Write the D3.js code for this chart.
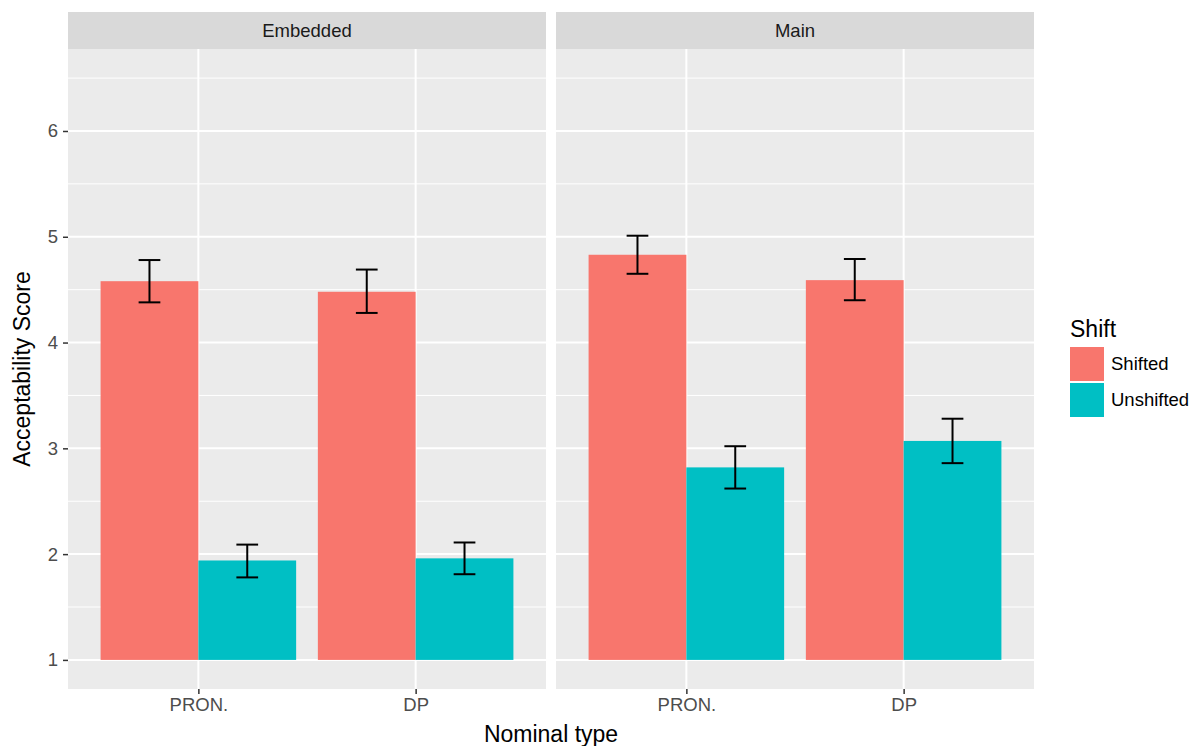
<!DOCTYPE html>
<html>
<head>
<meta charset="utf-8">
<script src="https://cdn.jsdelivr.net/npm/d3@7"></script>
<style>
  body { margin: 0; background: #fff; }
  svg { font-family: "Liberation Sans", Arial, sans-serif; }
</style>
</head>
<body>
<div id="chart"></div>
<script>
// data
const panels = ["Embedded", "Main"];
const types = ["PRON.", "DP"];
const shifts = ["Shifted", "Unshifted"];
const colors = ["#F8766D", "#00BFC4"];

// mean, lower, upper per panel / type / shift
const embeddedMean = [[4.58, 1.94], [4.48, 1.96]];
const embeddedLo   = [[4.38, 1.78], [4.28, 1.81]];
const embeddedHi   = [[4.78, 2.09], [4.69, 2.11]];
const mainMean = [[4.83, 2.82], [4.59, 3.07]];
const mainLo   = [[4.65, 2.62], [4.40, 2.86]];
const mainHi   = [[5.01, 3.02], [4.79, 3.28]];

const yTicks = [1, 2, 3, 4, 5, 6];
const yMinor = [1.5, 2.5, 3.5, 4.5, 5.5, 6.5];

const rows = [];
panels.forEach((p, pi) => {
  const m = pi === 0 ? embeddedMean : mainMean;
  const lo = pi === 0 ? embeddedLo : mainLo;
  const hi = pi === 0 ? embeddedHi : mainHi;
  types.forEach((t, ti) => shifts.forEach((s, si) => {
    rows.push({ panel: p, type: t, shift: s, mean: m[ti][si], lo: lo[ti][si], hi: hi[ti][si] });
  }));
});

const width = 1192, height = 746;
const panelX = [68, 556], panelW = 478;
const stripTop = 12, plotTop = 49, plotBottom = 689;
const font = "Liberation Sans, Arial, sans-serif";

const svg = d3.select("#chart").append("svg")
  .attr("width", width).attr("height", height);

const y = d3.scaleLinear().domain([0.725, 6.775]).range([plotBottom, plotTop]);

panels.forEach((p, pi) => {
  const x0 = panelX[pi];
  // ggplot discrete scale: centres at 0.6/2.2 and 1.6/2.2 of width
  const xc = d3.scalePoint().domain(types).range([x0 + panelW * 0.6 / 2.2, x0 + panelW * 1.6 / 2.2]);
  const unit = panelW / 2.2;
  const xs = d3.scaleBand().domain(shifts).range([-0.45 * unit, 0.45 * unit]);

  // strip
  svg.append("rect").attr("x", x0).attr("y", stripTop).attr("width", panelW)
    .attr("height", plotTop - stripTop).attr("fill", "#d9d9d9");
  svg.append("text").attr("x", x0 + panelW / 2).attr("y", (stripTop + plotTop) / 2)
    .attr("dy", "0.35em").attr("text-anchor", "middle").attr("font-size", 18.5)
    .attr("fill", "#1a1a1a").text(p);

  // panel bg
  const g = svg.append("g");
  g.append("rect").attr("x", x0).attr("y", plotTop).attr("width", panelW)
    .attr("height", plotBottom - plotTop).attr("fill", "#ebebeb");
  g.selectAll(".minor").data(yMinor).join("line")
    .attr("x1", x0).attr("x2", x0 + panelW)
    .attr("y1", d => y(d)).attr("y2", d => y(d))
    .attr("stroke", "#fff").attr("stroke-width", 1);
  g.selectAll(".major").data(yTicks).join("line")
    .attr("x1", x0).attr("x2", x0 + panelW)
    .attr("y1", d => y(d)).attr("y2", d => y(d))
    .attr("stroke", "#fff").attr("stroke-width", 2);
  g.selectAll(".vmajor").data(types).join("line")
    .attr("x1", d => xc(d)).attr("x2", d => xc(d))
    .attr("y1", plotTop).attr("y2", plotBottom)
    .attr("stroke", "#fff").attr("stroke-width", 2);

  const data = rows.filter(r => r.panel === p);
  g.selectAll(".bar").data(data).join("rect")
    .attr("x", d => xc(d.type) + xs(d.shift))
    .attr("width", xs.bandwidth())
    .attr("y", d => y(d.mean))
    .attr("height", d => y(1) - y(d.mean))
    .attr("fill", d => colors[shifts.indexOf(d.shift)]);

  // error bars
  const half = 0.05 * unit;
  const eb = g.selectAll(".eb").data(data).join("g")
    .attr("transform", d => `translate(${xc(d.type) + xs(d.shift) + xs.bandwidth() / 2},0)`)
    .attr("stroke", "#000").attr("stroke-width", 2);
  eb.append("line").attr("y1", d => y(d.lo)).attr("y2", d => y(d.hi));
  eb.append("line").attr("x1", -half).attr("x2", half).attr("y1", d => y(d.lo)).attr("y2", d => y(d.lo));
  eb.append("line").attr("x1", -half).attr("x2", half).attr("y1", d => y(d.hi)).attr("y2", d => y(d.hi));

  // x axis
  svg.append("g").attr("transform", `translate(0,${plotBottom})`)
    .attr("font-size", 18.5).attr("font-family", font)
    .call(d3.axisBottom(xc).tickSize(5).tickPadding(4))
    .attr("font-size", 18.5).attr("font-family", font)
    .call(a => a.select(".domain").remove())
    .call(a => a.selectAll(".tick line").attr("stroke", "#333").attr("stroke-width", 1.5))
    .call(a => a.selectAll(".tick text").attr("fill", "#4d4d4d"));
});

// y axis
svg.append("g").attr("transform", `translate(${panelX[0]},0)`)
  .call(d3.axisLeft(y).tickValues(yTicks).tickFormat(d3.format("d")).tickSize(5).tickPadding(5))
  .attr("font-size", 18.5).attr("font-family", font)
  .call(a => a.select(".domain").remove())
  .call(a => a.selectAll(".tick line").attr("stroke", "#333").attr("stroke-width", 1.5))
  .call(a => a.selectAll(".tick text").attr("fill", "#4d4d4d"));

// axis titles
svg.append("text").attr("x", (panelX[0] + panelX[1] + panelW) / 2).attr("y", 742)
  .attr("text-anchor", "middle").attr("font-size", 23).attr("fill", "#000").text("Nominal type");
svg.append("text").attr("transform", `translate(30,${(plotTop + plotBottom) / 2}) rotate(-90)`)
  .attr("text-anchor", "middle").attr("font-size", 23).attr("fill", "#000").text("Acceptability Score");

// legend
const lg = svg.append("g").attr("transform", "translate(1070,0)");
lg.append("text").attr("x", 0).attr("y", 337).attr("font-size", 23).text("Shift");
lg.selectAll(".key").data(shifts).join("rect")
  .attr("x", 0).attr("y", (d, i) => 347 + i * 36)
  .attr("width", 34).attr("height", 34)
  .attr("fill", (d, i) => colors[i]);
lg.selectAll(".lab").data(shifts).join("text")
  .attr("x", 41).attr("y", (d, i) => 364 + i * 36).attr("dy", "0.35em")
  .attr("font-size", 18.5).text(d => d);
</script>
</body>
</html>
